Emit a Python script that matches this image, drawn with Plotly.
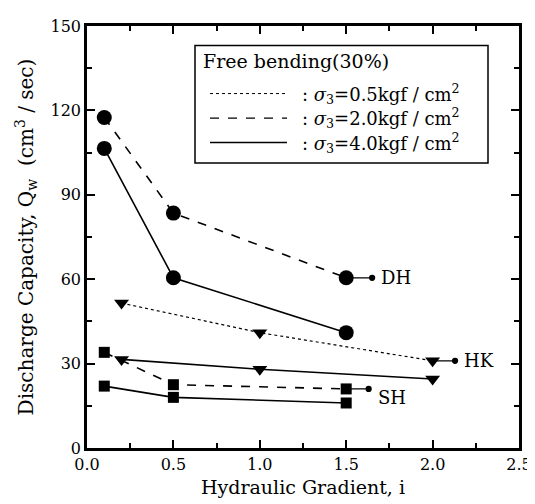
import plotly.graph_objects as go

# Data
dh_x = [0.1, 0.5, 1.5]
dh_s20 = [117.5, 83.5, 60.5]
dh_s40 = [106.5, 60.5, 41]
hk_x = [0.2, 1.0, 2.0]
hk_s05 = [51.5, 41, 31]
hk_s40 = [31.5, 28, 24.5]
sh_x = [0.1, 0.5, 1.5]
sh_s20 = [34, 22.5, 21]
sh_s40 = [22, 18, 16]

legend_title = "Free bending(30%)"
legend_labels = [": <i>σ</i><sub>3</sub>=0.5kgf / cm<sup>2</sup>",
                 ": <i>σ</i><sub>3</sub>=2.0kgf / cm<sup>2</sup>",
                 ": <i>σ</i><sub>3</sub>=4.0kgf / cm<sup>2</sup>"]
legend_dash = ["dot", "dash", "solid"]

FONT = "DejaVu Serif"
fig = go.Figure()

def add(x, y, dash, symbol, size, width):
    fig.add_trace(go.Scatter(x=x, y=y, mode="lines+markers",
                             line=dict(color="black", dash=dash, width=width),
                             marker=dict(symbol=symbol, size=size, color="black"),
                             showlegend=False))

add(dh_x, dh_s20, "dash", "circle", 15, 1.6)
add(dh_x, dh_s40, "solid", "circle", 15, 1.6)
add(hk_x, hk_s05, "dot", "triangle-down", 13, 1.2)
add(hk_x, hk_s40, "solid", "triangle-down", 13, 1.6)
add(sh_x, sh_s20, "dash", "square", 11, 1.6)
add(sh_x, sh_s40, "solid", "square", 11, 1.6)

# end labels with arrows
ends = [(dh_x[-1], dh_s20[-1], 1.65, "DH"),
        (hk_x[-1], hk_s05[-1], 2.13, "HK"),
        (sh_x[-1], sh_s20[-1], 1.63, "SH")]
for x0, y0, x1, lab in ends:
    fig.add_annotation(x=x1, y=y0, ax=x0, ay=y0, xref="x", yref="y", axref="x", ayref="y",
                       text="", showarrow=True, arrowhead=6, arrowsize=1.2, arrowwidth=1.3,
                       arrowcolor="black", standoff=0, startstandoff=0)
    fig.add_annotation(x=x1 + 0.04, y=y0 - (3 if lab == "SH" else 0), xref="x", yref="y",
                       text=lab, showarrow=False, xanchor="left", yanchor="middle",
                       font=dict(family=FONT, size=18, color="black"))

# custom legend box (paper coords); screen pixel frame of plot area
px0, px1, py0, py1 = 87, 519, 448, 17
def ppx(v): return (v - px0) / (px1 - px0)
def ppy(v): return (py0 - v) / (py0 - py1)

fig.add_shape(type="rect", xref="paper", yref="paper",
              x0=ppx(195), x1=ppx(488), y0=ppy(157), y1=ppy(37),
              line=dict(color="black", width=1.5), fillcolor="white", layer="above")
fig.add_annotation(x=ppx(201), y=ppy(53), xref="paper", yref="paper", text=legend_title,
                   showarrow=False, xanchor="left", yanchor="middle",
                   font=dict(family=FONT, size=19, color="black"))
rows = [86, 111, 136]
for r, lab, d in zip(rows, legend_labels, legend_dash):
    fig.add_shape(type="line", xref="paper", yref="paper", x0=ppx(210), x1=ppx(287),
                  y0=ppy(r), y1=ppy(r), line=dict(color="black", width=1.3 if d != "dot" else 1, dash=d),
                  layer="above")
    fig.add_annotation(x=ppx(300), y=ppy(r), xref="paper", yref="paper", text=lab,
                       showarrow=False, xanchor="left", yanchor="middle",
                       font=dict(family=FONT, size=18, color="black"))

axis_common = dict(showline=True, linecolor="black", linewidth=2.5, mirror="allticks",
                   ticks="inside", ticklen=8, tickwidth=1.5, tickcolor="black",
                   showgrid=False, zeroline=False,
                   tickfont=dict(family=FONT, size=16, color="black"))
fig.update_xaxes(range=[0, 2.5], dtick=0.5, tickformat=".1f",
                 minor=dict(ticks="inside", dtick=0.25, ticklen=5, tickcolor="black"),
                 title=dict(text="Hydraulic Gradient, i", font=dict(family=FONT, size=19, color="black"),
                            standoff=8),
                 **axis_common)
fig.update_yaxes(range=[0, 150], dtick=30,
                 minor=dict(ticks="inside", dtick=15, ticklen=5, tickcolor="black"),
                 title=dict(text="Discharge Capacity, Q<sub>w</sub>  (cm<sup>3</sup> / sec)",
                            font=dict(family=FONT, size=20, color="black"), standoff=12),
                 **axis_common)
# page body adds an 8px offset, so margins compensate
fig.update_layout(width=535, height=504, margin=dict(l=79, r=24, t=9, b=64),
                  plot_bgcolor="white", paper_bgcolor="white",
                  font=dict(family=FONT, color="black"))
fig.write_html("out.html")
